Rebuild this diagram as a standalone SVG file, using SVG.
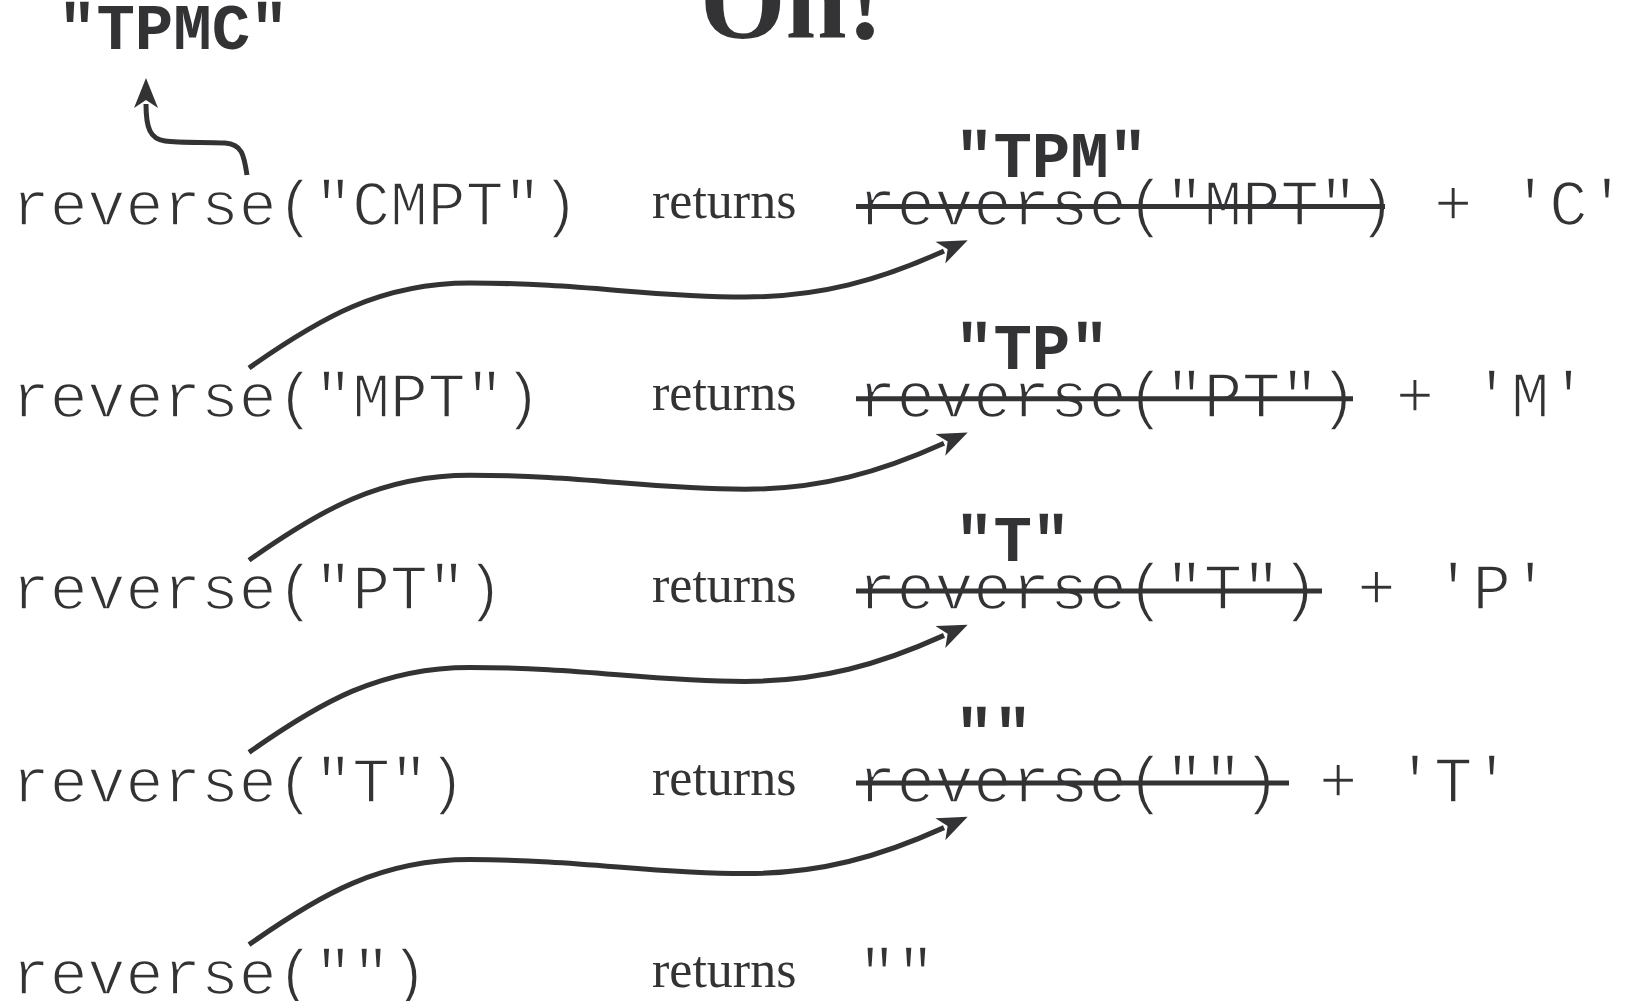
<svg xmlns="http://www.w3.org/2000/svg" width="1629" height="1001" viewBox="0 0 1629 1001">
<style>
  .mono { font-family: "Liberation Mono", "Courier New", monospace; font-size: 64px; fill: #333336; stroke: #ffffff; stroke-width: 1.6px; }
  .left { font-size: 63px; }
  .bold { font-family: "Liberation Mono", "Courier New", monospace; font-size: 64px; font-weight: bold; fill: #333336; }
  .serif { font-family: "Liberation Serif", "Times New Roman", serif; font-size: 52px; fill: #333336; }
  .title { font-family: "Liberation Serif", "Times New Roman", serif; font-size: 110px; font-weight: bold; fill: #333336; }
  .strike { stroke: #333336; stroke-width: 5; }
  .conn { fill: none; stroke: #333336; stroke-width: 5; stroke-linecap: butt; }
</style>
<defs>
  <marker id="head" viewBox="0 -14 32 28" refX="4" refY="0" markerWidth="32" markerHeight="28" markerUnits="userSpaceOnUse" orient="auto">
    <path d="M0,-12 L30,0 L0,12 L8,0 Z" fill="#333336"/>
  </marker>
</defs>
<rect width="1629" height="1001" fill="#ffffff"/>

<g id="title">
  <text class="title" x="700" y="38">Oh!</text>
</g>

<g id="result">
  <text class="bold" x="58" y="49">"TPMC"</text>
</g>

<g id="row1">
  <text class="mono left" x="12" y="225">reverse("CMPT")</text>
  <text class="serif" x="652" y="218">returns</text>
  <text class="bold" x="955" y="177">"TPM"</text>
  <text class="mono" x="858" y="225">reverse("MPT") + 'C'</text>
  <line class="strike" x1="856" y1="206.5" x2="1385" y2="206.5"/>
</g>

<g id="row2">
  <text class="mono left" x="12" y="417.2">reverse("MPT")</text>
  <text class="serif" x="652" y="410.2">returns</text>
  <text class="bold" x="955" y="369.2">"TP"</text>
  <text class="mono" x="858" y="417.2">reverse("PT") + 'M'</text>
  <line class="strike" x1="856" y1="398.7" x2="1353" y2="398.7"/>
</g>

<g id="row3">
  <text class="mono left" x="12" y="609.4">reverse("PT")</text>
  <text class="serif" x="652" y="602.4">returns</text>
  <text class="bold" x="955" y="561.4">"T"</text>
  <text class="mono" x="858" y="609.4">reverse("T") + 'P'</text>
  <line class="strike" x1="856" y1="590.9" x2="1322" y2="590.9"/>
</g>

<g id="row4">
  <text class="mono left" x="12" y="801.6">reverse("T")</text>
  <text class="serif" x="652" y="794.6">returns</text>
  <text class="bold" x="955" y="753.6">""</text>
  <text class="mono" x="858" y="801.6">reverse("") + 'T'</text>
  <line class="strike" x1="856" y1="783.1" x2="1289" y2="783.1"/>
</g>

<g id="row5">
  <text class="mono left" x="12" y="993.8">reverse("")</text>
  <text class="serif" x="652" y="986.8">returns</text>
  <text class="mono" x="858" y="993.8">""</text>
</g>

<g id="connectors">
  <path class="conn" marker-end="url(#head)" d="M247,175 C244,155 242,144 225,143 C205,142 180,143 165,141 C150,139 146,128 146,104"/>
  <path class="conn" marker-end="url(#head)" d="M249,368 C320,318 380,283 470,283 C580,283 650,297 745,297 C820,297 880,280 944,251"/>
  <path class="conn" marker-end="url(#head)" transform="translate(0,192.2)" d="M249,368 C320,318 380,283 470,283 C580,283 650,297 745,297 C820,297 880,280 944,251"/>
  <path class="conn" marker-end="url(#head)" transform="translate(0,384.4)" d="M249,368 C320,318 380,283 470,283 C580,283 650,297 745,297 C820,297 880,280 944,251"/>
  <path class="conn" marker-end="url(#head)" transform="translate(0,576.6)" d="M249,368 C320,318 380,283 470,283 C580,283 650,297 745,297 C820,297 880,280 944,251"/>
</g>
</svg>
